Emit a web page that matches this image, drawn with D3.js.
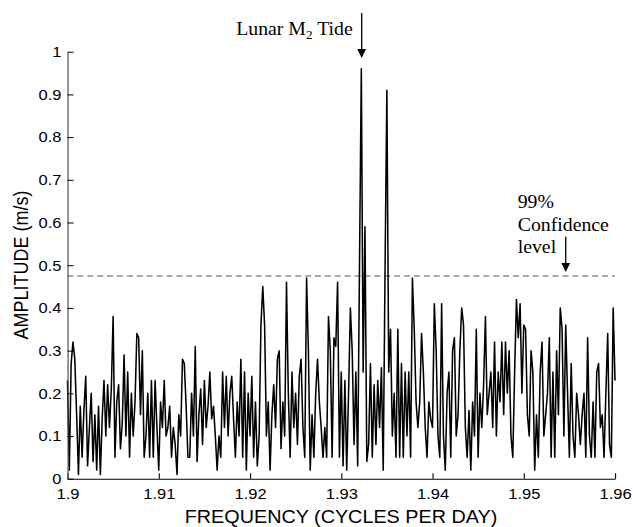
<!DOCTYPE html>
<html>
<head>
<meta charset="utf-8">
<script src="https://cdn.jsdelivr.net/npm/d3@7"></script>
<style>
body { margin: 0; background: #fff; }
svg { display: block; }
</style>
</head>
<body>
<svg id="chart" width="633" height="527"></svg>
<script>
'use strict';
// spectrum samples, 1.9 .. 1.96 cpd, step 0.0002
var freqStart = 1.9;
var freqStep = 0.0002;
var amplitude = [
	0.23,0.02,0.27,0.32,0.28,0.15,0.01,0.17,0.05,0.16,
	0.24,0.03,0.12,0.20,0.04,0.15,0.02,0.17,0.01,0.14,
	0.23,0.10,0.22,0.12,0.21,0.38,0.05,0.18,0.22,0.07,
	0.13,0.29,0.10,0.25,0.05,0.20,0.10,0.18,0.34,0.33,
	0.15,0.30,0.05,0.10,0.20,0.05,0.23,0.05,0.23,0.12,
	0.02,0.18,0.12,0.23,0.10,0.12,0.17,0.05,0.12,0.08,
	0.01,0.15,0.10,0.28,0.27,0.17,0.05,0.05,0.20,0.10,
	0.31,0.04,0.15,0.21,0.08,0.23,0.12,0.17,0.25,0.14,
	0.17,0.10,0.02,0.10,0.05,0.25,0.12,0.24,0.10,0.20,
	0.24,0.14,0.05,0.18,0.10,0.28,0.05,0.25,0.02,0.20,
	0.10,0.24,0.05,0.18,0.03,0.10,0.36,0.45,0.36,0.10,
	0.18,0.02,0.15,0.22,0.12,0.28,0.30,0.07,0.18,0.10,
	0.46,0.20,0.05,0.25,0.12,0.20,0.08,0.24,0.28,0.12,
	0.05,0.47,0.30,0.02,0.15,0.05,0.20,0.28,0.18,0.12,
	0.05,0.12,0.05,0.38,0.30,0.05,0.33,0.31,0.46,0.05,
	0.25,0.03,0.23,0.02,0.20,0.40,0.30,0.08,0.25,0.03,
	0.50,0.96,0.25,0.59,0.04,0.08,0.27,0.05,0.22,0.08,
	0.23,0.12,0.26,0.02,0.49,0.91,0.25,0.35,0.10,0.20,
	0.05,0.35,0.05,0.27,0.05,0.25,0.10,0.25,0.05,0.47,
	0.35,0.18,0.12,0.18,0.34,0.25,0.12,0.05,0.18,0.14,
	0.12,0.41,0.30,0.10,0.05,0.41,0.10,0.02,0.20,0.25,
	0.05,0.30,0.33,0.10,0.15,0.30,0.40,0.36,0.12,0.05,
	0.16,0.02,0.18,0.10,0.35,0.05,0.20,0.12,0.22,0.38,
	0.15,0.20,0.25,0.12,0.32,0.10,0.25,0.18,0.32,0.15,
	0.32,0.20,0.30,0.10,0.05,0.25,0.42,0.33,0.41,0.20,
	0.36,0.35,0.15,0.10,0.30,0.25,0.02,0.15,0.05,0.25,
	0.32,0.10,0.15,0.20,0.33,0.05,0.25,0.05,0.30,0.15,
	0.40,0.35,0.10,0.36,0.20,0.05,0.27,0.10,0.05,0.20,
	0.15,0.08,0.15,0.20,0.05,0.33,0.10,0.05,0.18,0.05,
	0.25,0.27,0.12,0.15,0.05,0.20,0.34,0.08,0.05,0.40,
	0.23
];
var xTicks = [1.9, 1.91, 1.92, 1.93, 1.94, 1.95, 1.96];
var xTickLabels = ['1.9', '1.91', '1.92', '1.93', '1.94', '1.95', '1.96'];
var yTicks = [0, 0.1, 0.2, 0.3, 0.4, 0.5, 0.6, 0.7, 0.8, 0.9, 1];
var yTickLabels = ['0', '0.1', '0.2', '0.3', '0.4', '0.5', '0.6', '0.7', '0.8', '0.9', '1'];
var confidenceLevel = 0.475;
var m2Freq = 1.93224;
var confArrowFreq = 1.9546;

// the original figure is slightly wider than tall, stretch everything
var stretch = 1.1;
var sans = "'Liberation Sans', Arial, sans-serif";
var serif = "'Liberation Serif', 'Times New Roman', serif";

var svg = d3.select('#chart');
var g = svg.append('g').attr('transform', 'scale(' + stretch + ',1)');

var x = d3.scaleLinear().domain([1.9, 1.96]).range([67.5 / stretch, 615 / stretch]);
var y = d3.scaleLinear().domain([0, 1]).range([478.7, 51.7]);

// confidence line
g.append('line')
	.attr('x1', x(1.9)).attr('x2', x(1.96))
	.attr('y1', y(confidenceLevel)).attr('y2', y(confidenceLevel))
	.attr('stroke', '#555')
	.attr('stroke-width', 1)
	.attr('stroke-dasharray', '5.4,3.6');

// spectrum
var line = d3.line()
	.x(function(d, i){ return x(freqStart + i * freqStep); })
	.y(function(d){ return y(d); });

g.append('path')
	.datum(amplitude)
	.attr('d', line)
	.attr('fill', 'none')
	.attr('stroke', '#000')
	.attr('stroke-width', 1.4)
	.attr('stroke-linejoin', 'round');

// axes
var xAxis = d3.axisBottom(x)
	.tickValues(xTicks)
	.tickFormat(function(d, i){ return xTickLabels[i]; })
	.tickSize(-5.5)
	.tickSizeOuter(0)
	.tickPadding(9.5);

var yAxis = d3.axisLeft(y)
	.tickValues(yTicks)
	.tickFormat(function(d, i){ return yTickLabels[i]; })
	.tickSize(-5.5)
	.tickSizeOuter(0)
	.tickPadding(5.5);

var gx = g.append('g')
	.attr('transform', 'translate(0,' + y(0) + ')')
	.call(xAxis);
var gy = g.append('g')
	.attr('transform', 'translate(' + x(1.9) + ',0)')
	.call(yAxis);

[gx, gy].forEach(function(ax){
	ax.selectAll('text')
		.attr('font-family', sans)
		.attr('font-size', 15)
		.attr('fill', '#000');
	ax.selectAll('line').attr('stroke', '#000');
});
gx.select('.domain').attr('stroke', '#000');
gy.select('.domain').attr('stroke', '#444');

// axis titles
g.append('text')
	.attr('x', 341 / stretch)
	.attr('y', 523)
	.attr('text-anchor', 'middle')
	.attr('font-family', sans)
	.attr('font-size', 18)
	.text('FREQUENCY (CYCLES PER DAY)');

g.append('text')
	.attr('transform', 'translate(' + (28 / stretch) + ',265) rotate(-90)')
	.attr('text-anchor', 'middle')
	.attr('font-family', sans)
	.attr('font-size', 18)
	.text('AMPLITUDE (m/s)');

// annotations
var drawArrow = function(ax, yTop, yTip){
	var head = 9, half = 4.4 / stretch;
	g.append('line')
		.attr('x1', ax).attr('x2', ax)
		.attr('y1', yTop).attr('y2', yTip - head + 1)
		.attr('stroke', '#000')
		.attr('stroke-width', 1.2);
	g.append('path')
		.attr('d', 'M' + (ax - half) + ',' + (yTip - head) + 'L' + (ax + half) + ',' + (yTip - head) + 'L' + ax + ',' + yTip + 'Z')
		.attr('fill', '#000');
};

var m2Label = g.append('text')
	.attr('x', 352.7 / stretch)
	.attr('y', 35)
	.attr('text-anchor', 'end')
	.attr('font-family', serif)
	.attr('font-size', 18);
m2Label.append('tspan').text('Lunar M');
m2Label.append('tspan').attr('font-size', 12).attr('dy', 4).text('2');
m2Label.append('tspan').attr('dy', -4).text(' Tide');
drawArrow(x(m2Freq), 13, 58);

var confLines = ['99%', 'Confidence', 'level'];
var confBase = [208, 231.5, 253.5];
g.append('g').selectAll('text')
	.data(confLines)
	.enter()
	.append('text')
		.attr('x', 517.7 / stretch)
		.attr('y', function(d, i){ return confBase[i]; })
		.attr('font-family', serif)
		.attr('font-size', 18)
		.text(function(d){ return d; });
drawArrow(x(confArrowFreq), 236.7, y(confidenceLevel) - 4);
</script>
</body>
</html>
